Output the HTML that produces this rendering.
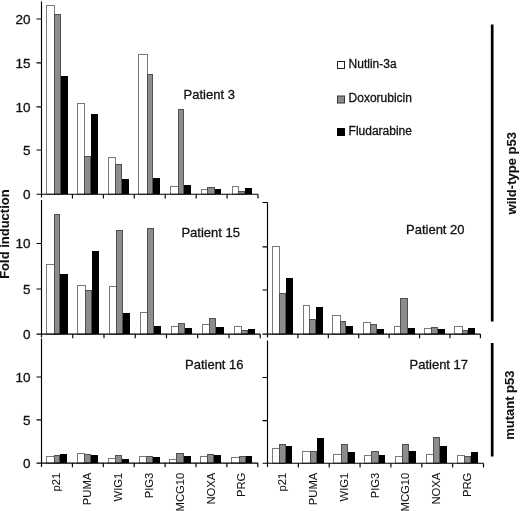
<!DOCTYPE html>
<html><head><meta charset="utf-8"><style>
html,body{margin:0;padding:0;background:#fff;width:520px;height:511px;overflow:hidden}
svg{display:block;filter:grayscale(100%) blur(0.3px)}
text{font-family:"Liberation Sans",sans-serif;fill:#111;stroke:#111;stroke-width:0.3px}
.t13{font-size:13px}
.n13{font-size:13.5px}
.t12{font-size:12px}
.t11{font-size:11.3px;stroke-width:0.05px}
.b13{font-size:13px;font-weight:bold;stroke-width:0.1px}
</style></head><body>
<svg width="520" height="511" viewBox="0 0 520 511">
<rect x="46.5" y="5.5" width="8" height="188.7" fill="#ffffff" stroke="#7a7a7a" stroke-width="1"/>
<rect x="54.5" y="14.5" width="6" height="179.7" fill="#8c8c8c" stroke="#505050" stroke-width="1"/>
<rect x="61" y="76" width="7" height="118.2" fill="#000000"/>
<rect x="77.5" y="103.5" width="7" height="90.7" fill="#ffffff" stroke="#7a7a7a" stroke-width="1"/>
<rect x="84.5" y="156.5" width="6" height="37.7" fill="#8c8c8c" stroke="#505050" stroke-width="1"/>
<rect x="91" y="114" width="7" height="80.2" fill="#000000"/>
<rect x="108.5" y="157.5" width="7" height="36.7" fill="#ffffff" stroke="#7a7a7a" stroke-width="1"/>
<rect x="115.5" y="164.5" width="6" height="29.7" fill="#8c8c8c" stroke="#505050" stroke-width="1"/>
<rect x="122" y="179" width="7" height="15.2" fill="#000000"/>
<rect x="138.5" y="54.5" width="9" height="139.7" fill="#ffffff" stroke="#7a7a7a" stroke-width="1"/>
<rect x="147.5" y="74.5" width="5" height="119.7" fill="#8c8c8c" stroke="#505050" stroke-width="1"/>
<rect x="153" y="178" width="7" height="16.2" fill="#000000"/>
<rect x="170.5" y="186.5" width="8" height="7.7" fill="#ffffff" stroke="#7a7a7a" stroke-width="1"/>
<rect x="178.5" y="109.5" width="5" height="84.7" fill="#8c8c8c" stroke="#505050" stroke-width="1"/>
<rect x="184" y="185" width="7" height="9.2" fill="#000000"/>
<rect x="201.5" y="189.5" width="6" height="4.7" fill="#ffffff" stroke="#7a7a7a" stroke-width="1"/>
<rect x="207.5" y="187.5" width="7" height="6.7" fill="#8c8c8c" stroke="#505050" stroke-width="1"/>
<rect x="215" y="189" width="6" height="5.2" fill="#000000"/>
<rect x="232.5" y="186.5" width="6" height="7.7" fill="#ffffff" stroke="#7a7a7a" stroke-width="1"/>
<rect x="238.5" y="191.5" width="6" height="2.7" fill="#8c8c8c" stroke="#505050" stroke-width="1"/>
<rect x="245" y="188" width="7" height="6.2" fill="#000000"/>
<path d="M41.5 1.5V197.5M36.5 194.2H258" stroke="#000000" stroke-width="1.15" fill="none"/>
<path d="M36.5 19H41.5M36.5 62.8H41.5M36.5 106.8H41.5M36.5 150H41.5M72.43 194.2V198.4M103.36 194.2V198.4M134.29 194.2V198.4M165.21 194.2V198.4M196.14 194.2V198.4M227.07 194.2V198.4M258 194.2V198.4" stroke="#000000" stroke-width="1.15" fill="none"/>
<rect x="46.5" y="264.5" width="8" height="69.6" fill="#ffffff" stroke="#7a7a7a" stroke-width="1"/>
<rect x="54.5" y="214.5" width="5" height="119.6" fill="#8c8c8c" stroke="#505050" stroke-width="1"/>
<rect x="60" y="274" width="8" height="60.1" fill="#000000"/>
<rect x="77.5" y="285.5" width="8" height="48.6" fill="#ffffff" stroke="#7a7a7a" stroke-width="1"/>
<rect x="85.5" y="290.5" width="6" height="43.6" fill="#8c8c8c" stroke="#505050" stroke-width="1"/>
<rect x="92" y="251" width="7" height="83.1" fill="#000000"/>
<rect x="109.5" y="286.5" width="7" height="47.6" fill="#ffffff" stroke="#7a7a7a" stroke-width="1"/>
<rect x="116.5" y="230.5" width="6" height="103.6" fill="#8c8c8c" stroke="#505050" stroke-width="1"/>
<rect x="123" y="313" width="7" height="21.1" fill="#000000"/>
<rect x="140.5" y="312.5" width="7" height="21.6" fill="#ffffff" stroke="#7a7a7a" stroke-width="1"/>
<rect x="147.5" y="228.5" width="6" height="105.6" fill="#8c8c8c" stroke="#505050" stroke-width="1"/>
<rect x="154" y="326" width="7" height="8.1" fill="#000000"/>
<rect x="171.5" y="326.5" width="7" height="7.6" fill="#ffffff" stroke="#7a7a7a" stroke-width="1"/>
<rect x="178.5" y="323.5" width="6" height="10.6" fill="#8c8c8c" stroke="#505050" stroke-width="1"/>
<rect x="185" y="328" width="7" height="6.1" fill="#000000"/>
<rect x="202.5" y="324.5" width="7" height="9.6" fill="#ffffff" stroke="#7a7a7a" stroke-width="1"/>
<rect x="209.5" y="318.5" width="6" height="15.6" fill="#8c8c8c" stroke="#505050" stroke-width="1"/>
<rect x="216" y="327" width="8" height="7.1" fill="#000000"/>
<rect x="234.5" y="326.5" width="7" height="7.6" fill="#ffffff" stroke="#7a7a7a" stroke-width="1"/>
<rect x="241.5" y="330.5" width="6" height="3.6" fill="#8c8c8c" stroke="#505050" stroke-width="1"/>
<rect x="248" y="329" width="7" height="5.1" fill="#000000"/>
<path d="M41.5 200V337.5M36.5 334.1H260.2" stroke="#000000" stroke-width="1.15" fill="none"/>
<path d="M36.5 243.5H41.5M36.5 289H41.5M72.74 334.1V338.3M103.99 334.1V338.3M135.23 334.1V338.3M166.47 334.1V338.3M197.71 334.1V338.3M228.96 334.1V338.3M260.2 334.1V338.3" stroke="#000000" stroke-width="1.15" fill="none"/>
<rect x="272.5" y="246.5" width="7" height="87.6" fill="#ffffff" stroke="#7a7a7a" stroke-width="1"/>
<rect x="279.5" y="293.5" width="6" height="40.6" fill="#8c8c8c" stroke="#505050" stroke-width="1"/>
<rect x="286" y="278" width="7" height="56.1" fill="#000000"/>
<rect x="303.5" y="305.5" width="6" height="28.6" fill="#ffffff" stroke="#7a7a7a" stroke-width="1"/>
<rect x="309.5" y="319.5" width="6" height="14.6" fill="#8c8c8c" stroke="#505050" stroke-width="1"/>
<rect x="316" y="307" width="7" height="27.1" fill="#000000"/>
<rect x="332.5" y="315.5" width="8" height="18.6" fill="#ffffff" stroke="#7a7a7a" stroke-width="1"/>
<rect x="340.5" y="321.5" width="5" height="12.6" fill="#8c8c8c" stroke="#505050" stroke-width="1"/>
<rect x="346" y="326" width="7" height="8.1" fill="#000000"/>
<rect x="363.5" y="322.5" width="7" height="11.6" fill="#ffffff" stroke="#7a7a7a" stroke-width="1"/>
<rect x="370.5" y="324.5" width="6" height="9.6" fill="#8c8c8c" stroke="#505050" stroke-width="1"/>
<rect x="377" y="329" width="7" height="5.1" fill="#000000"/>
<rect x="394.5" y="326.5" width="6" height="7.6" fill="#ffffff" stroke="#7a7a7a" stroke-width="1"/>
<rect x="400.5" y="298.5" width="7" height="35.6" fill="#8c8c8c" stroke="#505050" stroke-width="1"/>
<rect x="408" y="328" width="7" height="6.1" fill="#000000"/>
<rect x="424.5" y="328.5" width="7" height="5.6" fill="#ffffff" stroke="#7a7a7a" stroke-width="1"/>
<rect x="431.5" y="327.5" width="6" height="6.6" fill="#8c8c8c" stroke="#505050" stroke-width="1"/>
<rect x="438" y="329" width="7" height="5.1" fill="#000000"/>
<rect x="454.5" y="326.5" width="8" height="7.6" fill="#ffffff" stroke="#7a7a7a" stroke-width="1"/>
<rect x="462.5" y="330.5" width="5" height="3.6" fill="#8c8c8c" stroke="#505050" stroke-width="1"/>
<rect x="468" y="328" width="7" height="6.1" fill="#000000"/>
<path d="M267.5 202.5V337.5M262.5 334.1H480.4" stroke="#000000" stroke-width="1.15" fill="none"/>
<path d="M262.5 202.5H267.5M262.5 246.8H267.5M262.5 290H267.5M297.91 334.1V338.3M328.33 334.1V338.3M358.74 334.1V338.3M389.16 334.1V338.3M419.57 334.1V338.3M449.99 334.1V338.3M480.4 334.1V338.3" stroke="#000000" stroke-width="1.15" fill="none"/>
<rect x="46.5" y="456.5" width="8" height="6.6" fill="#ffffff" stroke="#7a7a7a" stroke-width="1"/>
<rect x="54.5" y="455.5" width="5" height="7.6" fill="#8c8c8c" stroke="#505050" stroke-width="1"/>
<rect x="60" y="454" width="7" height="9.1" fill="#000000"/>
<rect x="77.5" y="453.5" width="7" height="9.6" fill="#ffffff" stroke="#7a7a7a" stroke-width="1"/>
<rect x="84.5" y="454.5" width="6" height="8.6" fill="#8c8c8c" stroke="#505050" stroke-width="1"/>
<rect x="91" y="455" width="7" height="8.1" fill="#000000"/>
<rect x="108.5" y="458.5" width="7" height="4.6" fill="#ffffff" stroke="#7a7a7a" stroke-width="1"/>
<rect x="115.5" y="455.5" width="6" height="7.6" fill="#8c8c8c" stroke="#505050" stroke-width="1"/>
<rect x="122" y="459" width="7" height="4.1" fill="#000000"/>
<rect x="139.5" y="456.5" width="7" height="6.6" fill="#ffffff" stroke="#7a7a7a" stroke-width="1"/>
<rect x="146.5" y="456.5" width="6" height="6.6" fill="#8c8c8c" stroke="#505050" stroke-width="1"/>
<rect x="153" y="457" width="7" height="6.1" fill="#000000"/>
<rect x="169.5" y="459.5" width="7" height="3.6" fill="#ffffff" stroke="#7a7a7a" stroke-width="1"/>
<rect x="176.5" y="453.5" width="7" height="9.6" fill="#8c8c8c" stroke="#505050" stroke-width="1"/>
<rect x="184" y="456" width="7" height="7.1" fill="#000000"/>
<rect x="200.5" y="456.5" width="7" height="6.6" fill="#ffffff" stroke="#7a7a7a" stroke-width="1"/>
<rect x="207.5" y="454.5" width="6" height="8.6" fill="#8c8c8c" stroke="#505050" stroke-width="1"/>
<rect x="214" y="455" width="7" height="8.1" fill="#000000"/>
<rect x="231.5" y="457.5" width="8" height="5.6" fill="#ffffff" stroke="#7a7a7a" stroke-width="1"/>
<rect x="239.5" y="456.5" width="6" height="6.6" fill="#8c8c8c" stroke="#505050" stroke-width="1"/>
<rect x="246" y="456" width="6" height="7.1" fill="#000000"/>
<path d="M41.5 338.5V467M36.5 463.1H257.8" stroke="#000000" stroke-width="1.15" fill="none"/>
<path d="M36.5 377H41.5M36.5 419.8H41.5M72.4 463.1V467.3M103.3 463.1V467.3M134.2 463.1V467.3M165.1 463.1V467.3M196 463.1V467.3M226.9 463.1V467.3M257.8 463.1V467.3" stroke="#000000" stroke-width="1.15" fill="none"/>
<rect x="272.5" y="448.5" width="7" height="14.7" fill="#ffffff" stroke="#7a7a7a" stroke-width="1"/>
<rect x="279.5" y="444.5" width="6" height="18.7" fill="#8c8c8c" stroke="#505050" stroke-width="1"/>
<rect x="286" y="446" width="6" height="17.2" fill="#000000"/>
<rect x="302.5" y="451.5" width="8" height="11.7" fill="#ffffff" stroke="#7a7a7a" stroke-width="1"/>
<rect x="310.5" y="451.5" width="6" height="11.7" fill="#8c8c8c" stroke="#505050" stroke-width="1"/>
<rect x="317" y="438" width="7" height="25.2" fill="#000000"/>
<rect x="333.5" y="454.5" width="8" height="8.7" fill="#ffffff" stroke="#7a7a7a" stroke-width="1"/>
<rect x="341.5" y="444.5" width="6" height="18.7" fill="#8c8c8c" stroke="#505050" stroke-width="1"/>
<rect x="348" y="452" width="7" height="11.2" fill="#000000"/>
<rect x="364.5" y="455.5" width="7" height="7.7" fill="#ffffff" stroke="#7a7a7a" stroke-width="1"/>
<rect x="371.5" y="451.5" width="7" height="11.7" fill="#8c8c8c" stroke="#505050" stroke-width="1"/>
<rect x="379" y="455" width="6" height="8.2" fill="#000000"/>
<rect x="395.5" y="456.5" width="7" height="6.7" fill="#ffffff" stroke="#7a7a7a" stroke-width="1"/>
<rect x="402.5" y="444.5" width="6" height="18.7" fill="#8c8c8c" stroke="#505050" stroke-width="1"/>
<rect x="409" y="451" width="7" height="12.2" fill="#000000"/>
<rect x="426.5" y="454.5" width="7" height="8.7" fill="#ffffff" stroke="#7a7a7a" stroke-width="1"/>
<rect x="433.5" y="437.5" width="6" height="25.7" fill="#8c8c8c" stroke="#505050" stroke-width="1"/>
<rect x="440" y="446" width="7" height="17.2" fill="#000000"/>
<rect x="457.5" y="455.5" width="7" height="7.7" fill="#ffffff" stroke="#7a7a7a" stroke-width="1"/>
<rect x="464.5" y="456.5" width="6" height="6.7" fill="#8c8c8c" stroke="#505050" stroke-width="1"/>
<rect x="471" y="452" width="7" height="11.2" fill="#000000"/>
<path d="M267.5 340.5V467M262.5 463.2H483.5" stroke="#000000" stroke-width="1.15" fill="none"/>
<path d="M262.5 377.5H267.5M262.5 420.6H267.5M298.36 463.2V467.4M329.21 463.2V467.4M360.07 463.2V467.4M390.93 463.2V467.4M421.79 463.2V467.4M452.64 463.2V467.4M483.5 463.2V467.4" stroke="#000000" stroke-width="1.15" fill="none"/>
<text x="30.5" y="23.5" text-anchor="end" class="n13">20</text>
<text x="30.5" y="67.5" text-anchor="end" class="n13">15</text>
<text x="30.5" y="111.5" text-anchor="end" class="n13">10</text>
<text x="30.5" y="154.7" text-anchor="end" class="n13">5</text>
<text x="30.5" y="198.7" text-anchor="end" class="n13">0</text>
<text x="30.5" y="248.2" text-anchor="end" class="n13">10</text>
<text x="30.5" y="293.7" text-anchor="end" class="n13">5</text>
<text x="30.5" y="338.7" text-anchor="end" class="n13">0</text>
<text x="30.5" y="381.7" text-anchor="end" class="n13">10</text>
<text x="30.5" y="424.5" text-anchor="end" class="n13">5</text>
<text x="30.5" y="467.7" text-anchor="end" class="n13">0</text>
<text x="183.6" y="99.2" class="t13">Patient 3</text>
<text x="181.4" y="237.3" class="t13">Patient 15</text>
<text x="406" y="234.1" class="t13">Patient 20</text>
<text x="185" y="368.6" class="t13">Patient 16</text>
<text x="409.5" y="368.6" class="t13">Patient 17</text>
<text transform="translate(60.05,472.6) rotate(-90)" text-anchor="end" x="0" y="0" class="t11">p21</text>
<text transform="translate(90.95,472.6) rotate(-90)" text-anchor="end" x="0" y="0" class="t11">PUMA</text>
<text transform="translate(121.85,472.6) rotate(-90)" text-anchor="end" x="0" y="0" class="t11">WIG1</text>
<text transform="translate(152.75,472.6) rotate(-90)" text-anchor="end" x="0" y="0" class="t11">PIG3</text>
<text transform="translate(183.65,472.6) rotate(-90)" text-anchor="end" x="0" y="0" class="t11">MCG10</text>
<text transform="translate(214.55,472.6) rotate(-90)" text-anchor="end" x="0" y="0" class="t11">NOXA</text>
<text transform="translate(245.45,472.6) rotate(-90)" text-anchor="end" x="0" y="0" class="t11">PRG</text>
<text transform="translate(286.03,472.6) rotate(-90)" text-anchor="end" x="0" y="0" class="t11">p21</text>
<text transform="translate(316.89,472.6) rotate(-90)" text-anchor="end" x="0" y="0" class="t11">PUMA</text>
<text transform="translate(347.74,472.6) rotate(-90)" text-anchor="end" x="0" y="0" class="t11">WIG1</text>
<text transform="translate(378.6,472.6) rotate(-90)" text-anchor="end" x="0" y="0" class="t11">PIG3</text>
<text transform="translate(409.46,472.6) rotate(-90)" text-anchor="end" x="0" y="0" class="t11">MCG10</text>
<text transform="translate(440.31,472.6) rotate(-90)" text-anchor="end" x="0" y="0" class="t11">NOXA</text>
<text transform="translate(471.17,472.6) rotate(-90)" text-anchor="end" x="0" y="0" class="t11">PRG</text>
<rect x="337.5" y="61.5" width="7" height="7" fill="#fff" stroke="#222" stroke-width="1"/>
<text x="348.6" y="68.2" class="t12">Nutlin-3a</text>
<rect x="337.5" y="96" width="7" height="7" fill="#8c8c8c" stroke="#333" stroke-width="1"/>
<text x="348.6" y="101.9" class="t12">Doxorubicin</text>
<rect x="337.5" y="128.5" width="7" height="7" fill="#000" stroke="#000" stroke-width="1"/>
<text x="348.6" y="135.1" class="t12">Fludarabine</text>
<path d="M492.2 24.5V321.5M492.2 343V456.6" stroke="#000" stroke-width="2.7" fill="none"/>
<text transform="translate(515.8,173.3) rotate(-90)" text-anchor="middle" class="b13">wild-type p53</text>
<text transform="translate(514,405.2) rotate(-90)" text-anchor="middle" class="b13">mutant p53</text>
<text transform="translate(9.1,234.1) rotate(-90)" text-anchor="middle" class="b13">Fold induction</text>
</svg>
</body></html>
